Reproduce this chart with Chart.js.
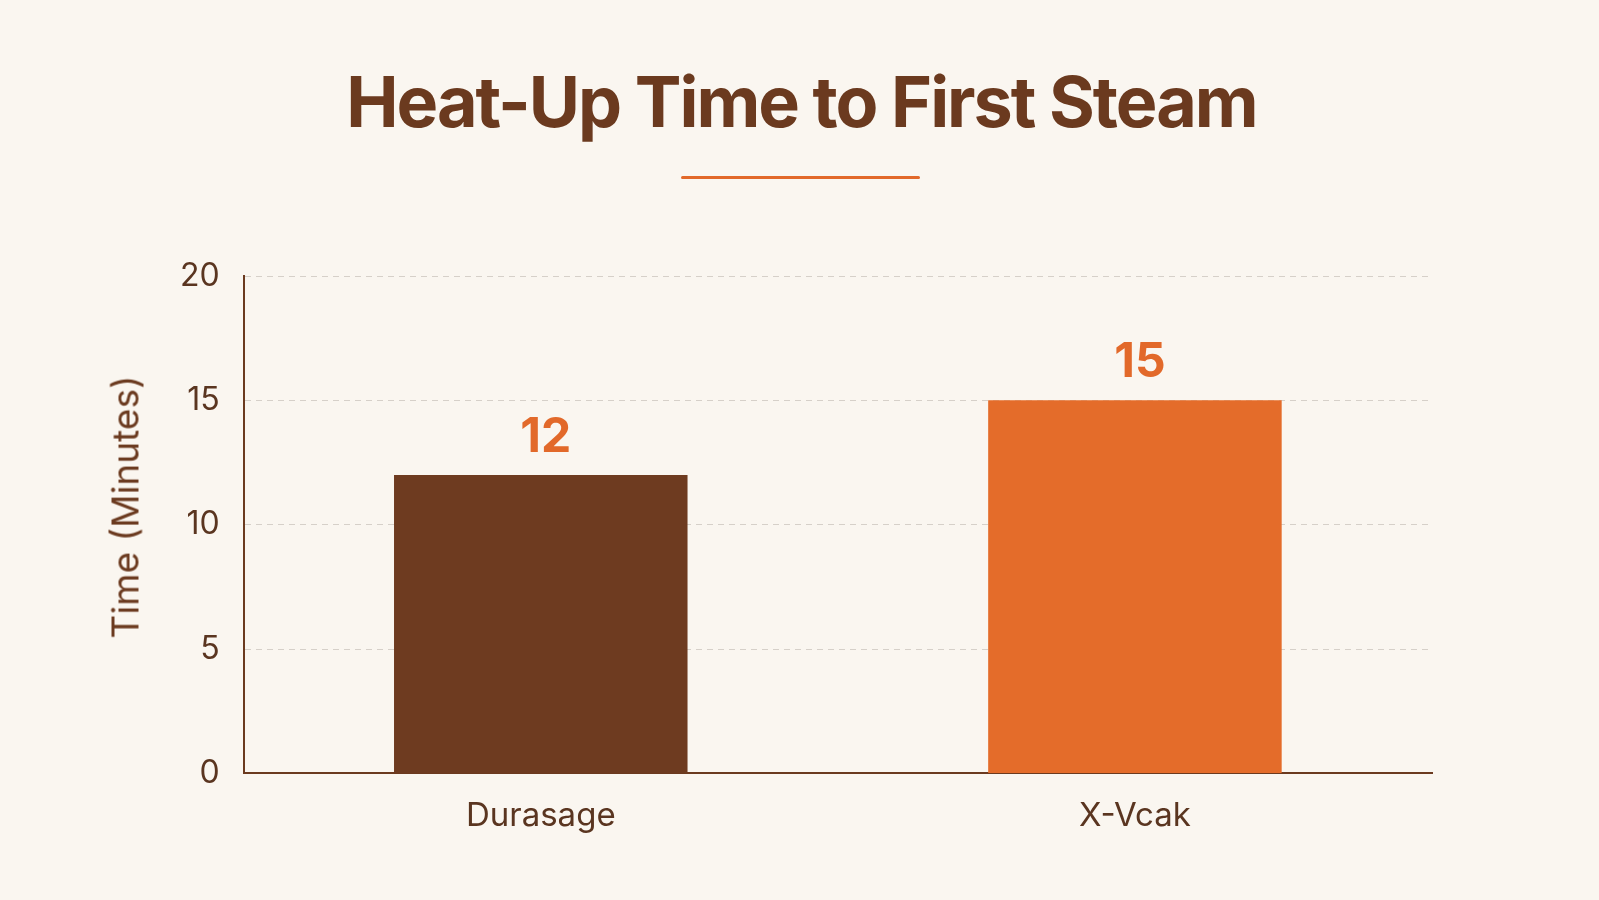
<!DOCTYPE html>
<html>
<head>
<meta charset="utf-8">
<script src="https://cdn.jsdelivr.net/npm/chart.js@4.4.1/dist/chart.umd.min.js"></script>
<style>
  html, body { margin: 0; padding: 0; background: #faf6f0; }
  #wrap { position: relative; width: 1599px; height: 900px; }
  #wrap canvas { position: absolute; left: 0; top: 0; }
  h1 {
    position: absolute; left: 4px; right: 0; top: 60px; margin: 0;
    text-align: center; font-family: Inter, sans-serif; font-weight: 700;
    font-size: 70px; line-height: 1.21; letter-spacing: -2px; color: #6b3a1f;
  }
  .rule {
    position: absolute; left: 681px; top: 176px; width: 239px; height: 3px;
    background: #e2692a; border-radius: 2px;
  }
  .ytitle {
    position: absolute; left: 125px; top: 507px; width: 0; height: 0;
  }
  .ytitle span {
    position: absolute; transform: translate(-50%, -50%) rotate(-90deg);
    white-space: nowrap; font-family: Inter, sans-serif; font-size: 37px;
    color: #6b3a1f;
  }
</style>
</head>
<body>
<div id="wrap">
  <canvas id="chart"></canvas>
  <h1>Heat-Up Time to First Steam</h1>
  <div class="rule"></div>
  <div class="ytitle"><span>Time (Minutes)</span></div>
</div>
<script>
// Heat-up time for each machine
const machines = ["Durasage", "X-Vcak"];
const heatUpMinutes = [12, 15];
const barColors = ["#6e3b20", "#e46c2a"];

const brown = "#6b3a1f";
const orange = "#e2692a";

// value above each bar
const valueLabels = {
  id: "valueLabels",
  afterDatasetsDraw(chart) {
    const ctx = chart.ctx;
    const meta = chart.getDatasetMeta(0);
    ctx.save();
    ctx.fillStyle = orange;
    ctx.font = "bold 48px Inter";
    ctx.textAlign = "center";
    ctx.textBaseline = "alphabetic";
    meta.data.forEach((bar, i) => {
      ctx.fillText(String(heatUpMinutes[i]), bar.x + 5, bar.y - 23);
    });
    ctx.restore();
  }
};

const ctx = document.getElementById("chart").getContext("2d");
new Chart(ctx, {
  type: "bar",
  data: {
    labels: machines,
    datasets: [{
      data: heatUpMinutes,
      backgroundColor: barColors,
      borderWidth: 0,
      barPercentage: 0.494,
      categoryPercentage: 1.0
    }]
  },
  options: {
    responsive: true,
    maintainAspectRatio: false,
    animation: false,
    layout: { padding: { top: 276, left: 156, right: 167, bottom: 49 } },
    plugins: {
      legend: { display: false },
      tooltip: { enabled: false }
    },
    scales: {
      x: {
        grid: { display: false },
        border: { display: true, color: brown, width: 2 },
        ticks: { color: "#5a3520", padding: 15, font: { family: "Inter", size: 33 } }
      },
      y: {
        min: 0,
        max: 20,
        ticks: { stepSize: 5, color: "#5a3520", padding: 24, font: { family: "Inter", size: 32 } },
        grid: {
          color: c => c.tick && c.tick.value === 0 ? "rgba(0,0,0,0)" : "#d6d0c9",
          lineWidth: 1,
          drawTicks: false
        },
        border: { display: true, color: brown, width: 2, dash: [6, 5] }
      }
    }
  },
  plugins: [valueLabels]
});
</script>
</body>
</html>
